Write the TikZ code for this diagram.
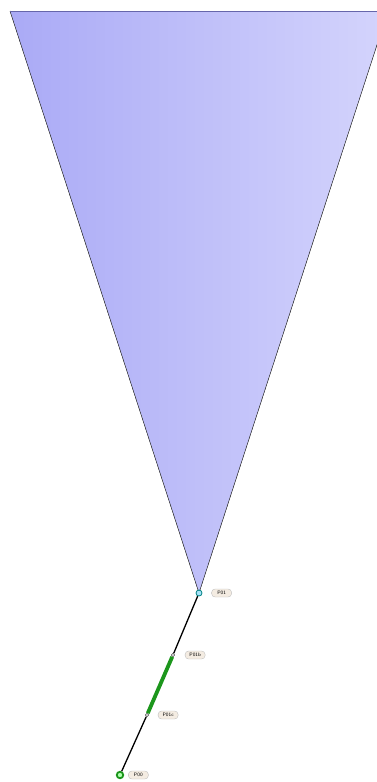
\documentclass[tikz,border=0pt]{standalone}
\usepackage{xcolor}
\usepackage{tikz}
\usetikzlibrary{positioning}
\definecolor{coneleft}{RGB}{170,170,246}
\definecolor{coneright}{RGB}{212,212,252}
\definecolor{trackgreen}{RGB}{28,150,28}
\definecolor{tagfill}{RGB}{244,236,226}

\begin{document}
\begin{tikzpicture}[x=1pt, y=-1pt, font=\fontsize{5}{6}\selectfont\sffamily,
  pt/.style={circle, draw, inner sep=0pt, minimum size=3.4pt, fill=white},
  tag/.style={draw=black!25, fill=tagfill, rounded corners=3.5pt, inner sep=1.4pt, minimum height=8pt, minimum width=20pt},
  seg/.style={line width=1.3pt}]
\useasboundingbox (0,0) rectangle (377,782);
\clip (0,0) rectangle (377,782);
% cone
\coordinate (tl) at (10,11);
\coordinate (tr) at (388,11);
\coordinate (apex) at (199,593);
\fill[left color=coneleft, right color=coneright] (tl) -- (tr) -- (apex) -- cycle;
\draw[line width=0.5pt, black!80] (tl) -- (apex) -- (tr);
\draw[line width=1pt, black!55!blue!60] (tl) -- (tr);
% points
\node[pt, draw=teal, fill=cyan!35, minimum size=6pt, line width=0.8pt] (p01) at (apex) {};
\node[pt] (p01b) at (173,655) {};
\node[pt] (p01c) at (147,715) {};
\node[pt, draw=trackgreen, fill=green!30, minimum size=6.5pt, line width=1.8pt] (p00) at (120,775) {};
% track
\draw[seg] (p01) -- (p01b);
\draw[line width=3.8pt, trackgreen] (p01b) -- (p01c);
\draw[seg] (p01c) -- (p00);
% labels
\node[tag, right=9pt of p01] (l01) {P01};
\node[tag, right=10pt of p01b] (l01b) {P01b};
\node[tag, right=9pt of p01c] (l01c) {P01c};
\node[tag, right=4pt of p00] (l00) {P00};
\end{tikzpicture}
\end{document}
